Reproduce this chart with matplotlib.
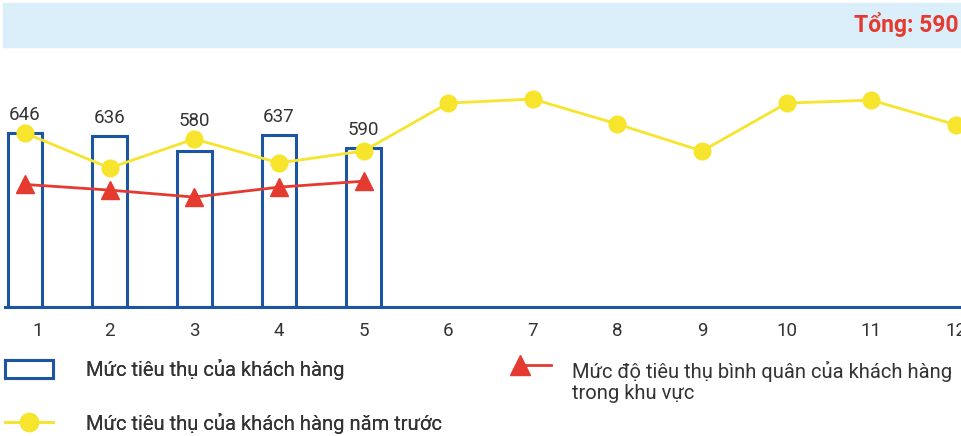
import numpy as np
import matplotlib
matplotlib.use('Agg')
import matplotlib.pyplot as plt
from matplotlib.patches import Rectangle
from matplotlib.lines import Line2D
from matplotlib.legend_handler import HandlerLine2D
from matplotlib.transforms import ScaledTranslation

plt.rcParams['font.family'] = ['Roboto', 'DejaVu Sans']

# Dữ liệu
months = np.arange(1, 13)
tick_labels = [str(m) for m in months]
consumption = [646, 636, 580, 637, 590]                     # Mức tiêu thụ của khách hàng
last_year = [646, 516, 624, 535, 579, 757, 772, 679, 579, 757, 768, 676]
area_avg = [455, 434, 408, 445, 467]
total_text = 'Tổng: 590'

label_bar = 'Mức tiêu thụ của khách hàng'
label_last = 'Mức tiêu thụ của khách hàng năm trước'
label_avg = 'Mức độ tiêu thụ bình quân của khách hàng\ntrong khu vực'

blue = '#1b55a3'
yellow = '#f7e42c'
red = '#e53a30'
text_c = '#333333'

W, H = 962, 436
fig = plt.figure(figsize=(W / 100, H / 100), dpi=100)

# Thanh tiêu đề phía trên
fig.patches.append(Rectangle((3 / W, 1 - 47 / H), 959 / W, 44 / H,
                             transform=fig.transFigure, color='#daeffa', zorder=0))
fig.text(959 / W, 1 - 25 / H, total_text, ha='right', va='center',
         fontsize=16.5, fontweight='bold', color=red)

ax = fig.add_axes([5 / W, 1 - 307 / H, 957 / W, 247 / H])
ax.set_facecolor('none')

n = len(consumption)
ax.bar(months[:n], consumption, width=0.41, facecolor='white', edgecolor=blue,
       linewidth=2.2, zorder=2)
# nhãn giá trị đặt phía trên cột / điểm cao hơn
for x, v, ly in zip(months[:n], consumption, last_year):
    ax.annotate(str(v), (x, max(v, ly)), xytext=(0, 13), textcoords='offset points',
                ha='center', va='center', fontsize=13.5, color=text_c)

ax.plot(months[:n], area_avg, color=red, linewidth=2, marker='^', markersize=13,
        zorder=3)
ax.plot(months, last_year, color=yellow, linewidth=2, marker='o', markersize=12,
        zorder=4)

ax.set_xlim(0.764, 12.07)
ax.set_ylim(0, 917)
ax.set_xticks(months)
ax.set_xticklabels(tick_labels, fontsize=13.5, color=text_c)
ax.tick_params(axis='x', length=0, pad=11)
ax.set_yticks([])
for s in ['left', 'right', 'top']:
    ax.spines[s].set_visible(False)
ax.spines['bottom'].set_color(blue)
ax.spines['bottom'].set_linewidth(2.2)

# nhãn "1" lệch sang phải như ảnh gốc
lbl1 = ax.xaxis.get_major_ticks()[0].label1
lbl1.set_transform(lbl1.get_transform() + ScaledTranslation(13 / 100, 0, fig.dpi_scale_trans))


class LeftMarker(HandlerLine2D):
    # ký hiệu ở đầu trái đoạn thẳng, ngang dòng chữ đầu tiên
    def create_artists(self, *args, **kwargs):
        artists = super().create_artists(*args, **kwargs)
        for a in artists:
            a.set_markevery([0])
            a.set_ydata(np.asarray(a.get_ydata()) + 12.5)
        return artists


h_bar = Rectangle((0, 0), 1, 1, facecolor='white', edgecolor=blue, linewidth=2.2)
h_last = Line2D([], [], color=yellow, linewidth=2, marker='o', markersize=13)
h_avg = Line2D([], [], color=red, linewidth=2, marker='^', markersize=14)

leg1 = fig.legend([h_bar, h_last], [label_bar, label_last], loc='upper left',
                  bbox_to_anchor=(5 / W, 1 - 359 / H), frameon=False, fontsize=14.5,
                  handlelength=2.4, handleheight=1.05, handletextpad=1.6,
                  labelspacing=1.65, borderpad=0, borderaxespad=0, labelcolor=text_c)
leg2 = fig.legend([h_avg], [label_avg], loc='upper left',
                  bbox_to_anchor=(520 / W, 1 - 361 / H), frameon=False, fontsize=14.5,
                  handlelength=1.55, handletextpad=1.05, borderpad=0, borderaxespad=0,
                  labelcolor=text_c, handler_map={h_avg: LeftMarker(numpoints=1)})
leg2.get_texts()[0].set_linespacing(1.1)
fig.add_artist(leg1)

fig.savefig('out.png', dpi=100)
